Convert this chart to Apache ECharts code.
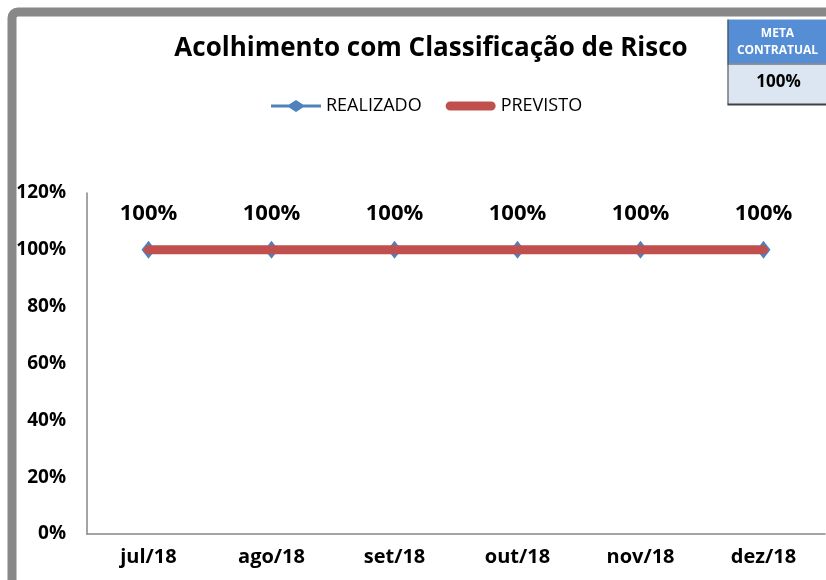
<!DOCTYPE html>
<html>
<head>
<meta charset="utf-8">
<script src="https://cdn.jsdelivr.net/npm/echarts@6/dist/echarts.min.js"></script>
<style>
  html, body { margin: 0; padding: 0; background: #fff; }
  #chart { width: 826px; height: 580px; }
</style>
</head>
<body>
<div id="chart"></div>
<script>
// Monthly results of "Acolhimento com Classificação de Risco"
const months = ['jul/18', 'ago/18', 'set/18', 'out/18', 'nov/18', 'dez/18'];
const realizado = [100, 100, 100, 100, 100, 100];
const previsto = [100, 100, 100, 100, 100, 100];
const metaContratual = '100%';
const yTicks = [0, 20, 40, 60, 80, 100, 120];

const FONT = '"Open Sans", "Noto Sans", sans-serif';

// legend icons: thin line with a diamond, and a thick rounded bar
const ICON_REALIZADO = 'path://M0,4.5 L18,4.5 L25,0 L32,4.5 L50,4.5 L50,7.5 L32,7.5 L25,12 L18,7.5 L0,7.5 Z';
const ICON_PREVISTO = 'path://M0,0 L0.01,0 L0.01,0.01 Z M0,12 L0.01,12 L0.01,11.99 Z ' +
  'M4.5,1.5 L45.5,1.5 A4.5,4.5 0 0 1 45.5,10.5 L4.5,10.5 A4.5,4.5 0 0 1 4.5,1.5 Z';

const chart = echarts.init(document.getElementById('chart'));

chart.setOption({
  animation: false,
  title: {
    text: 'Acolhimento com Classificação de Risco',
    left: 426, top: 31, textAlign: 'center',
    textStyle: { fontFamily: FONT, fontSize: 26, fontWeight: 'bold', color: '#000' }
  },
  legend: {
    top: 92, left: 266,
    itemWidth: 50, itemHeight: 13, itemGap: 24,
    textStyle: { fontFamily: FONT, fontSize: 18, color: '#000' },
    data: [
      { name: 'REALIZADO', icon: ICON_REALIZADO, itemStyle: { color: '#4F81BD' } },
      { name: 'PREVISTO', icon: ICON_PREVISTO, itemStyle: { color: '#C0504D' } }
    ]
  },
  grid: { left: 87, right: 1, top: 193, bottom: 46 },
  xAxis: {
    type: 'category',
    data: months,
    boundaryGap: true,
    axisLine: { lineStyle: { color: '#868686', width: 1.5 } },
    axisTick: { show: false },
    axisLabel: { fontFamily: FONT, fontSize: 20, fontWeight: 'bold', color: '#000', margin: 13 }
  },
  yAxis: {
    type: 'value',
    min: yTicks[0], max: yTicks[yTicks.length - 1], interval: 20,
    axisLine: { show: true, lineStyle: { color: '#868686', width: 1.5 } },
    axisTick: { show: false },
    splitLine: { show: false },
    axisLabel: {
      fontFamily: FONT, fontSize: 19, fontWeight: 'bold', color: '#000', margin: 21,
      formatter: v => v + '%'
    }
  },
  series: [
    {
      name: 'REALIZADO', type: 'line', data: realizado,
      symbol: 'diamond', symbolSize: [14, 18],
      lineStyle: { color: '#4F81BD', width: 3 },
      itemStyle: { color: '#4F81BD' },
      label: {
        show: true, position: 'top', distance: 16,
        fontFamily: FONT, fontSize: 22, fontWeight: 'bold', color: '#000',
        formatter: p => p.value + '%'
      },
      z: 2
    },
    {
      name: 'PREVISTO', type: 'line', data: previsto,
      symbol: 'none',
      lineStyle: { color: '#C0504D', width: 9, cap: 'round' },
      itemStyle: { color: '#C0504D' },
      z: 3
    }
  ],
  graphic: [
    // outer frame
    {
      type: 'rect', silent: true, z: 0,
      shape: { x: 12, y: 12, width: 900, height: 700, r: 6 },
      style: { fill: 'none', stroke: '#888888', lineWidth: 9 }
    },
    // meta table
    {
      type: 'group', left: 725, top: 17, z: 10,
      children: [
        { type: 'rect', shape: { x: 0, y: 0, width: 110, height: 44 },
          style: { fill: '#558ED5' } },
        { type: 'rect', shape: { x: 0, y: 44, width: 110, height: 41 },
          style: { fill: '#DCE6F2' } },
        { type: 'line', shape: { x1: 0.5, y1: 0, x2: 0.5, y2: 85 },
          style: { stroke: '#404040', lineWidth: 1 } },
        { type: 'line', shape: { x1: 0, y1: 44.5, x2: 110, y2: 44.5 },
          style: { stroke: '#404040', lineWidth: 1 } },
        { type: 'line', shape: { x1: 0, y1: 85, x2: 110, y2: 85 },
          style: { stroke: '#404040', lineWidth: 2 } },
        { type: 'text', x: 50, y: 14, style: {
            text: 'META', fontFamily: FONT, fontSize: 12, fontWeight: 'bold',
            fill: '#fff', textAlign: 'center', textVerticalAlign: 'middle' } },
        { type: 'text', x: 50, y: 31, style: {
            text: 'CONTRATUAL', fontFamily: FONT, fontSize: 12, fontWeight: 'bold',
            fill: '#fff', textAlign: 'center', textVerticalAlign: 'middle' } },
        { type: 'text', x: 51, y: 63, style: {
            text: metaContratual, fontFamily: FONT, fontSize: 17, fontWeight: 'bold',
            fill: '#000', textAlign: 'center', textVerticalAlign: 'middle' } }
      ]
    }
  ]
});
</script>
</body>
</html>
